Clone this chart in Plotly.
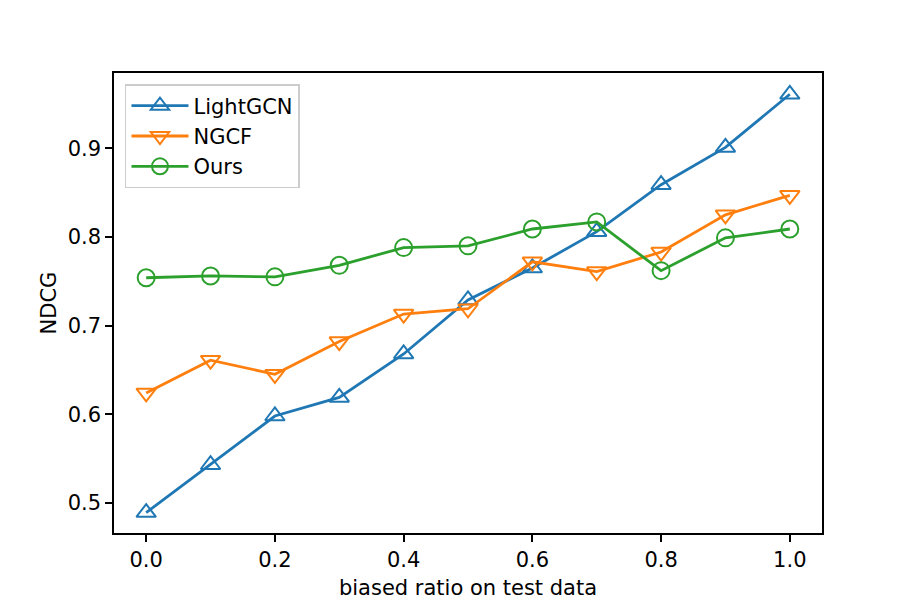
import plotly.graph_objects as go

x_vals = [0.0, 0.1, 0.2, 0.3, 0.4, 0.5, 0.6, 0.7, 0.8, 0.9, 1.0]
lightgcn = [0.489, 0.543, 0.598, 0.619, 0.668, 0.729, 0.765, 0.806, 0.859, 0.901, 0.961]
ngcf = [0.624, 0.661, 0.645, 0.682, 0.713, 0.719, 0.772, 0.761, 0.783, 0.825, 0.847]
ours = [0.754, 0.756, 0.755, 0.768, 0.788, 0.790, 0.809, 0.817, 0.762, 0.799, 0.809]

x_ticks = [0.0, 0.2, 0.4, 0.6, 0.8, 1.0]
x_tick_labels = ["0.0", "0.2", "0.4", "0.6", "0.8", "1.0"]
y_ticks = [0.5, 0.6, 0.7, 0.8, 0.9]
y_tick_labels = ["0.5", "0.6", "0.7", "0.8", "0.9"]

series = [
    ("LightGCN", lightgcn, "#1f77b4", "triangle-up-open"),
    ("NGCF", ngcf, "#ff7f0e", "triangle-down-open"),
    ("Ours", ours, "#2ca02c", "circle-open"),
]

FONT = 21

fig = go.Figure()
for name, vals, color, sym in series:
    fig.add_trace(go.Scatter(
        x=x_vals, y=vals, name=name, mode="lines+markers",
        line=dict(color=color, width=2.8),
        marker=dict(symbol=sym, size=17, color=color, line=dict(width=2, color=color)),
    ))

axis_common = dict(
    showgrid=False, zeroline=False, showline=True, linecolor="black", linewidth=1.5,
    mirror=True, ticks="outside", ticklen=7, tickwidth=1.5, tickcolor="black",
    tickfont=dict(family="DejaVu Sans", size=FONT, color="black"),
)

fig.update_layout(
    width=905, height=601,
    paper_bgcolor="white", plot_bgcolor="white",
    margin=dict(l=106, r=91, t=65, b=76),
    font=dict(family="DejaVu Sans", size=FONT, color="black"),
    xaxis=dict(range=[-0.05, 1.05], tickvals=x_ticks, ticktext=x_tick_labels,
               title=dict(text="biased ratio on test data", font=dict(size=FONT), standoff=9),
               **axis_common),
    yaxis=dict(range=[0.466, 0.985], tickvals=y_ticks, ticktext=y_tick_labels,
               title=dict(text="NDCG", font=dict(size=FONT), standoff=5),
               **axis_common),
    legend=dict(x=0.0155, y=0.976, xanchor="left", yanchor="top",
                bordercolor="#cccccc", borderwidth=1.5, bgcolor="rgba(255,255,255,0.8)",
                font=dict(size=FONT), itemwidth=57, tracegroupgap=0),
    showlegend=True,
)

fig.write_html("out.html")
